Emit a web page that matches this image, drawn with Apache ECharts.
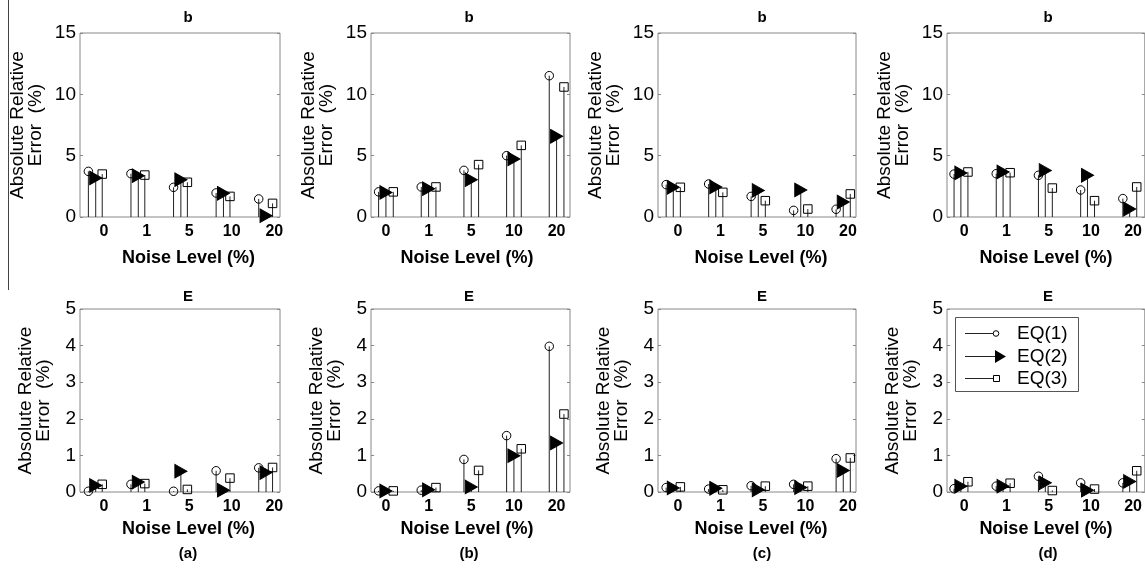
<!DOCTYPE html>
<html><head><meta charset="utf-8">
<script src="https://cdn.jsdelivr.net/npm/echarts@6/dist/echarts.min.js"></script>
<style>html,body{margin:0;padding:0;background:#fff}#c{width:1145px;height:571px}</style>
</head><body><div id="c"></div>
<script>
// ---------------- data ----------------
const noiseLevels = ['0', '1', '5', '10', '20'];
const seriesNames = ['EQ(1)', 'EQ(2)', 'EQ(3)'];
const rowTitles = ['b', 'E'];
const columnLabels = ['(a)', '(b)', '(c)', '(d)'];
const yTicksTop = [0, 5, 10, 15];
const yTicksBottom = [0, 1, 2, 3, 4, 5];

// parameter b, absolute relative error (%)
const bA_eq1 = [3.72, 3.53, 2.42, 1.96, 1.47];
const bA_eq2 = [3.18, 3.37, 3.04, 1.93, 0.11];
const bA_eq3 = [3.50, 3.42, 2.83, 1.68, 1.11];

const bB_eq1 = [2.05, 2.45, 3.80, 5.00, 11.52];
const bB_eq2 = [2.00, 2.31, 3.04, 4.73, 6.58];
const bB_eq3 = [2.05, 2.45, 4.27, 5.84, 10.60];

const bC_eq1 = [2.64, 2.69, 1.68, 0.54, 0.63];
const bC_eq2 = [2.42, 2.45, 2.17, 2.20, 1.22];
const bC_eq3 = [2.42, 2.01, 1.33, 0.65, 1.88];

const bD_eq1 = [3.50, 3.53, 3.40, 2.20, 1.50];
const bD_eq2 = [3.59, 3.67, 3.80, 3.40, 0.65];
const bD_eq3 = [3.67, 3.61, 2.36, 1.33, 2.45];

// parameter E, absolute relative error (%)
const eA_eq1 = [0.02, 0.21, 0.02, 0.58, 0.66];
const eA_eq2 = [0.18, 0.27, 0.57, 0.05, 0.53];
const eA_eq3 = [0.21, 0.23, 0.07, 0.38, 0.67];

const eB_eq1 = [0.03, 0.05, 0.89, 1.54, 3.98];
const eB_eq2 = [0.03, 0.06, 0.14, 0.99, 1.34];
const eB_eq3 = [0.03, 0.12, 0.59, 1.18, 2.13];

const eC_eq1 = [0.12, 0.08, 0.17, 0.21, 0.91];
const eC_eq2 = [0.11, 0.10, 0.06, 0.12, 0.59];
const eC_eq3 = [0.14, 0.06, 0.16, 0.16, 0.93];

const eD_eq1 = [0.09, 0.16, 0.43, 0.25, 0.25];
const eD_eq2 = [0.16, 0.16, 0.25, 0.05, 0.29];
const eD_eq3 = [0.28, 0.24, 0.04, 0.08, 0.58];

// ---------------- layout ----------------
const FONT = '"Liberation Sans", Arial, Helvetica, sans-serif';
const panelData = [
  [[bA_eq1, bA_eq2, bA_eq3], [bB_eq1, bB_eq2, bB_eq3], [bC_eq1, bC_eq2, bC_eq3], [bD_eq1, bD_eq2, bD_eq3]],
  [[eA_eq1, eA_eq2, eA_eq3], [eB_eq1, eB_eq2, eB_eq3], [eC_eq1, eC_eq2, eC_eq3], [eD_eq1, eD_eq2, eD_eq3]]
];
const cols = [
  {left: 80,  width: 200, xmin: 0.436, xmax: 5.133, off: [-0.367, -0.195, -0.042], center: 188, pad: [0, 0, 0, 17]},
  {left: 371, width: 199, xmin: 0.65,  xmax: 5.314, off: [-0.172, 0, 0.172],       center: 469, pad: [0, 7, 0, 0]},
  {left: 658, width: 198, xmin: 0.53,  xmax: 5.19,  off: [-0.278, -0.11, 0.056],   center: 762, pad: [0, 0, 0, 8]},
  {left: 947, width: 200, xmin: 0.59,  xmax: 5.277, off: [-0.243, -0.081, 0.086],  center: 1048, pad: [0, 0, 0, 0]}
];
const rows = [
  {top: 33, height: 184, ticks: yTicksTop, nameGapY: 35, nameGapX: 32, titleY: 18},
  {top: 309, height: 183, ticks: yTicksBottom, nameGapY: 27, nameGapX: 28, titleY: 297}
];
const TRI = 'path://M0,0L12,6.5L0,13Z';
const markers = [
  {symbol: 'circle', size: 8.5, color: 'rgba(0,0,0,0)', border: '#000'},
  {symbol: TRI, size: [12, 13.5], color: '#000', border: '#000'},
  {symbol: 'rect', size: 8.5, color: 'rgba(0,0,0,0)', border: '#000'}
];

const grid = [], xAxis = [], yAxis = [], series = [], graphic = [];
let g = 0;
rows.forEach((row, r) => {
  cols.forEach((col, c) => {
    grid.push({left: col.left, top: row.top, width: col.width, height: row.height,
      show: true, borderColor: '#888', borderWidth: 1, backgroundColor: '#fff', containLabel: false});
    xAxis.push({
      type: 'value', gridIndex: g, min: col.xmin, max: col.xmax,
      axisLine: {show: false}, axisTick: {show: false}, splitLine: {show: false},
      axisLabel: {customValues: [1, 2, 3, 4, 5], formatter: v => noiseLevels[Math.round(v) - 1],
        fontFamily: FONT, fontWeight: 'bold', fontSize: 16, color: '#000', margin: 7},
      name: 'Noise Level (%)', nameLocation: 'middle', nameGap: row.nameGapX,
      nameTextStyle: {fontFamily: FONT, fontWeight: 'bold', fontSize: 18, color: '#000', padding: col.pad}
    });
    const tk = row.ticks;
    const interval = tk[1] - tk[0];
    yAxis.push({
      type: 'value', gridIndex: g, min: tk[0], max: tk[tk.length - 1], interval: interval,
      axisLine: {show: false}, splitLine: {show: false},
      axisTick: {show: true, inside: true, length: 3, lineStyle: {color: '#888'}},
      axisLabel: {fontFamily: FONT, fontSize: 19, color: '#000', margin: 4},
      name: 'Absolute Relative\nError  (%)', nameLocation: 'middle', nameRotate: 90, nameGap: row.nameGapY,
      nameTextStyle: {fontFamily: FONT, fontSize: 19, lineHeight: 18, color: '#000'}
    });
    yAxis.push({
      type: 'value', gridIndex: g, position: 'right', min: tk[0], max: tk[tk.length - 1], interval: interval,
      axisLine: {show: false}, splitLine: {show: false}, axisLabel: {show: false},
      axisTick: {show: true, inside: true, length: 3, lineStyle: {color: '#888'}}
    });
    const vals = panelData[r][c];
    vals.forEach((arr, s) => {
      const pts = arr.map((v, i) => [i + 1 + col.off[s], v]);
      series.push({
        type: 'custom', xAxisIndex: g, yAxisIndex: 2 * g, silent: true, z: 2,
        data: pts,
        renderItem: (params, api) => {
          const p0 = api.coord([api.value(0), 0]);
          const p1 = api.coord([api.value(0), api.value(1)]);
          return {type: 'line', shape: {x1: p0[0], y1: p0[1], x2: p1[0], y2: p1[1]},
            style: {stroke: '#222', lineWidth: 1}};
        }
      });
      const m = markers[s];
      series.push({
        type: 'scatter', name: seriesNames[s], xAxisIndex: g, yAxisIndex: 2 * g, silent: true, z: 3,
        data: pts, symbol: m.symbol, symbolSize: m.size,
        itemStyle: {color: m.color, borderColor: m.border, borderWidth: 1, opacity: 1}
      });
    });
    graphic.push({type: 'text', x: col.center, y: row.titleY,
      style: {text: rowTitles[r], font: 'bold 15px ' + FONT, fill: '#000', textAlign: 'center', textVerticalAlign: 'middle'}});
    if (r === 1) {
      graphic.push({type: 'text', x: col.center, y: 554,
        style: {text: columnLabels[c], font: 'bold 15px ' + FONT, fill: '#000', textAlign: 'center', textVerticalAlign: 'middle'}});
    }
    g++;
  });
});

// stray border line at far left of the source figure
graphic.push({type: 'line', shape: {x1: 8.5, y1: 0, x2: 8.5, y2: 290}, style: {stroke: '#444', lineWidth: 1}});

// legend (inside bottom-right panel)
const lg = {x: 955, y: 317, w: 123, h: 74};
graphic.push({type: 'rect', shape: {x: lg.x + 0.5, y: lg.y + 0.5, width: lg.w, height: lg.h},
  style: {fill: '#fff', stroke: '#555', lineWidth: 1}, z: 10});
const legendRows = [333, 356, 378];
seriesNames.forEach((nm, s) => {
  const yy = legendRows[s];
  graphic.push({type: 'line', shape: {x1: 965, y1: yy + 0.5, x2: 995, y2: yy + 0.5}, style: {stroke: '#222', lineWidth: 1}, z: 11});
  if (s === 0) graphic.push({type: 'circle', shape: {cx: 996, cy: yy + 0.5, r: 2.8}, style: {fill: '#fff', stroke: '#000', lineWidth: 1}, z: 12});
  if (s === 1) graphic.push({type: 'polygon', shape: {points: [[995, yy - 6], [1006, yy + 0.5], [995, yy + 7]]}, style: {fill: '#000'}, z: 12});
  if (s === 2) graphic.push({type: 'rect', shape: {x: 993.5, y: yy - 2.5, width: 6, height: 6}, style: {fill: '#fff', stroke: '#000', lineWidth: 1}, z: 12});
  graphic.push({type: 'text', x: 1017, y: yy + 1, style: {text: nm, font: '19px ' + FONT, fill: '#000', textVerticalAlign: 'middle'}, z: 12});
});

const chart = echarts.init(document.getElementById('c'), null, {renderer: 'canvas'});
chart.setOption({animation: false, backgroundColor: '#fff', grid, xAxis, yAxis, series, graphic});
</script></body></html>
